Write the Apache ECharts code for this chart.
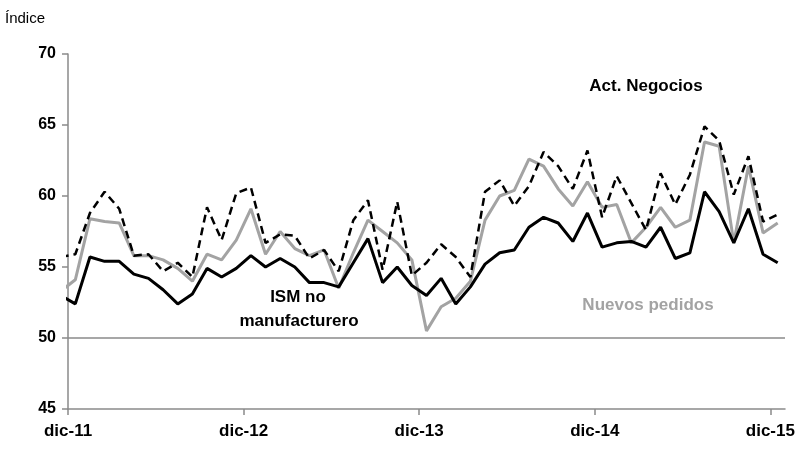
<!DOCTYPE html>
<html>
<head>
<meta charset="utf-8">
<script src="https://cdn.jsdelivr.net/npm/echarts@6/dist/echarts.min.js"></script>
<style>
html,body{margin:0;padding:0;background:#fff;}
#chart{width:804px;height:449px;}
</style>
</head>
<body>
<div id="chart"></div>
<script>
// Months: nov-11 ... dic-15 (first point lies just left of the axis start and is clipped)
const months = ['nov-11','dic-11','ene-12','feb-12','mar-12','abr-12','may-12','jun-12','jul-12','ago-12','sep-12','oct-12','nov-12',
'dic-12','ene-13','feb-13','mar-13','abr-13','may-13','jun-13','jul-13','ago-13','sep-13','oct-13','nov-13',
'dic-13','ene-14','feb-14','mar-14','abr-14','may-14','jun-14','jul-14','ago-14','sep-14','oct-14','nov-14',
'dic-14','ene-15','feb-15','mar-15','abr-15','may-15','jun-15','jul-15','ago-15','sep-15','oct-15','nov-15','dic-15'];

const tickLabels = ['dic-11','dic-12','dic-13','dic-14','dic-15'];

const ismNoManuf = [53.0,52.4,55.7,55.4,55.4,54.5,54.2,53.4,52.4,53.1,54.9,54.3,54.9,
55.8,55.0,55.6,55.0,53.9,53.9,53.6,55.3,57.0,53.9,55.0,53.7,
53.0,54.2,52.4,53.6,55.2,56.0,56.2,57.8,58.5,58.1,56.8,58.8,
56.4,56.7,56.8,56.4,57.8,55.6,56.0,60.3,58.9,56.7,59.1,55.9,55.3];

const nuevosPedidos = [53.3,54.1,58.4,58.2,58.1,55.8,55.8,55.5,54.9,54.0,55.9,55.5,56.9,
59.1,55.9,57.5,56.3,55.8,56.2,53.5,56.0,58.3,57.5,56.7,55.5,
50.5,52.2,52.8,54.0,58.3,60.0,60.4,62.6,62.1,60.5,59.3,61.0,
59.2,59.4,56.7,57.8,59.2,57.8,58.3,63.8,63.5,56.7,62.1,57.4,58.1];

const actNegocios = [55.7,55.9,58.8,60.3,59.1,55.8,55.9,54.7,55.3,54.3,59.2,56.9,60.2,
60.6,56.7,57.3,57.2,55.6,56.2,54.7,58.3,59.7,54.8,59.6,54.4,
55.3,56.6,55.7,54.3,60.3,61.1,59.3,60.7,63.1,62.1,60.5,63.2,
58.5,61.4,59.5,57.6,61.6,59.4,61.5,64.9,63.9,60.1,62.8,58.2,58.7];

const FONT = 'Liberation Sans, Arial, sans-serif';

function toXY(arr){ return arr.map((v,i)=>[i - 0.5, v]); }

const chart = echarts.init(document.getElementById('chart'));
chart.setOption({
  animation:false,
  grid:{left:68,right:19,top:54,bottom:40,containLabel:false},
  xAxis:{
    type:'value', min:0, max:49,
    axisLine:{show:true,onZero:false,lineStyle:{color:'#8a8a8a',width:1.5}},
    axisTick:{show:true,length:6,customValues:[0,12,24,36,48],lineStyle:{color:'#8a8a8a',width:1.5}},
    axisLabel:{customValues:[0,12,24,36,48],margin:14,color:'#000',fontFamily:FONT,fontWeight:'bold',fontSize:17,
      formatter:function(v){ return tickLabels[Math.round(v/12)] || ''; }},
    splitLine:{show:false}
  },
  yAxis:{
    type:'value', min:45, max:70, interval:5,
    axisLine:{show:true,lineStyle:{color:'#8a8a8a',width:1.5}},
    axisTick:{show:true,length:6,lineStyle:{color:'#8a8a8a',width:1.5}},
    axisLabel:{margin:12,color:'#000',fontFamily:FONT,fontWeight:'bold',fontSize:16},
    splitLine:{show:false}
  },
  series:[
    {name:'Nuevos pedidos',type:'line',data:toXY(nuevosPedidos),showSymbol:false,symbol:'none',clip:true,
      lineStyle:{color:'#a3a3a3',width:3},
      markLine:{silent:true,symbol:'none',label:{show:false},data:[{yAxis:50}],
        lineStyle:{color:'#8a8a8a',width:1.5,type:'solid'}}},
    {name:'Act. Negocios',type:'line',data:toXY(actNegocios),showSymbol:false,symbol:'none',clip:true,
      lineStyle:{color:'#000',width:2.5,type:[8,5]}},
    {name:'ISM no manufacturero',type:'line',data:toXY(ismNoManuf),showSymbol:false,symbol:'none',clip:true,
      lineStyle:{color:'#000',width:3}}
  ],
  graphic:[
    {type:'text',left:5,top:11,style:{text:'Índice',fill:'#000',font:'15px '+FONT}},
    {type:'text',x:646,y:86,style:{text:'Act. Negocios',fill:'#000',font:'bold 17px '+FONT,align:'center',verticalAlign:'middle'}},
    {type:'text',x:298,y:297,style:{text:'ISM no',fill:'#000',font:'bold 17px '+FONT,align:'center',verticalAlign:'middle'}},
    {type:'text',x:299,y:321,style:{text:'manufacturero',fill:'#000',font:'bold 17px '+FONT,align:'center',verticalAlign:'middle'}},
    {type:'text',x:648,y:305,style:{text:'Nuevos pedidos',fill:'#a3a3a3',font:'bold 17px '+FONT,align:'center',verticalAlign:'middle'}}
  ]
});
</script>
</body>
</html>
